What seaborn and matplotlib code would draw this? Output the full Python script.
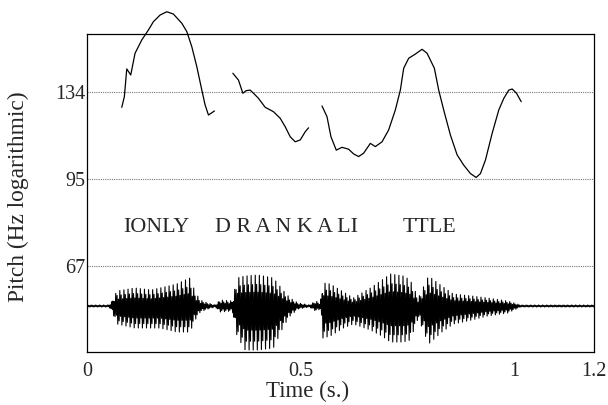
import numpy as np
import pandas as pd
import matplotlib
matplotlib.use("Agg")
import matplotlib.pyplot as plt
from matplotlib.ticker import NullLocator, FixedLocator, FixedFormatter
import seaborn as sns

# ---- pitch contours (time s, Hz) ----
seg1_t = [0.0813, 0.0874, 0.0930, 0.1023, 0.1124, 0.1281, 0.1436, 0.1553, 0.1710, 0.1867,
          0.2021, 0.2218, 0.2335, 0.2452, 0.2569, 0.2686, 0.2763, 0.2841, 0.2920, 0.2981]
seg1_hz = [126.2, 131.7, 147.1, 143.6, 156.6, 165.1, 171.8, 177.6, 182.4, 184.8,
           183.1, 176.5, 170.7, 160.7, 148.4, 135.2, 127.4, 122.4, 123.5, 124.4]

seg2_t = [0.3412, 0.3543, 0.3646, 0.3724, 0.3817, 0.3895, 0.4012, 0.4169, 0.4286, 0.4363,
          0.4520, 0.4637, 0.4754, 0.4871, 0.4988, 0.5105, 0.5183]
seg2_hz = [144.6, 140.7, 133.5, 134.9, 135.2, 133.5, 130.8, 126.2, 124.9, 124.0,
           120.8, 116.8, 112.2, 110.0, 110.8, 114.5, 116.3]

seg3_t = [0.5497, 0.5614, 0.5707, 0.5831, 0.5965, 0.6119, 0.6237, 0.6354, 0.6471, 0.6628,
          0.6745, 0.6902, 0.7056, 0.7213, 0.7330, 0.7408, 0.7525, 0.7681, 0.7838, 0.7955,
          0.8126, 0.8227, 0.8344, 0.8501, 0.8658, 0.8813, 0.8970, 0.9103, 0.9204, 0.9321,
          0.9478, 0.9633, 0.9750, 0.9867, 0.9947, 1.0047, 1.0157]
seg3_hz = [126.9, 121.6, 112.2, 106.4, 107.6, 106.8, 104.8, 103.7, 105.1, 109.3,
           107.9, 110.0, 115.3, 124.9, 135.2, 147.5, 153.5, 156.1, 159.1, 156.6,
           147.5, 135.2, 124.9, 113.0, 104.4, 100.2, 96.9, 95.4, 96.9, 102.3,
           113.8, 124.9, 130.8, 135.2, 135.8, 133.5, 129.1]

# ---- waveform envelope (time s, upper / lower amplitude, arbitrary units) ----
env_t = [0.000, 0.050, 0.056, 0.070, 0.112, 0.150, 0.171, 0.210, 0.230, 0.241,
         0.253, 0.265, 0.283, 0.300, 0.311, 0.340, 0.351, 0.370, 0.400, 0.436,
         0.460, 0.475, 0.494, 0.520, 0.535, 0.546, 0.552, 0.569, 0.600, 0.623,
         0.663, 0.690, 0.710, 0.740, 0.756, 0.775, 0.799, 0.830, 0.857, 0.900,
         0.937, 0.984, 1.014, 1.186]
env_up = [1, 1, 3, 15, 18, 16, 18, 22, 26, 28,
          14, 6, 3, 1, 6, 5, 28, 30, 31, 28,
          15, 8, 3, 1, 5, 3, 23, 22, 14, 8,
          18, 26, 32, 30, 26, 8, 30, 20, 12, 10,
          8, 5, 1, 1]
env_dn = [1, 1, 3, 18, 22, 22, 22, 26, 26, 26,
          14, 6, 3, 1, 6, 5, 30, 44, 44, 42,
          20, 10, 3, 1, 5, 3, 32, 30, 22, 18,
          24, 30, 36, 36, 34, 12, 38, 26, 18, 14,
          10, 7, 1, 1]

# ---- ticks and annotations ----
y_ticks = [67, 95, 134]
x_ticks = [0, 0.5, 1, 1.186]
x_tick_labels = ["0", "0.5", "1", "1.2"]
words = ["IONLY", "D R A N K A LI", "TTLE"]
word_t = [0.084, 0.300, 0.739]
word_hz = [78, 78, 78]

sns.set_style("white")
plt.rcParams["font.family"] = ["Liberation Serif", "DejaVu Serif"]

W, H = 608, 405
fig = plt.figure(figsize=(W / 100, H / 100), dpi=100)
L, R, T, B = 87, 594, 34, 352
ax = fig.add_axes([L / W, 1 - B / H, (R - L) / W, (B - T) / H])
ax.set_yscale("log")
ax.set_ylim(47.55, 169.1)
ax.set_xlim(0, 1.186)

for st, sh in [(seg1_t, seg1_hz), (seg2_t, seg2_hz), (seg3_t, seg3_hz)]:
    df = pd.DataFrame({"t": st, "hz": sh})
    sns.lineplot(data=df, x="t", y="hz", ax=ax, color="black", linewidth=0.9,
                 sort=False, estimator=None)
for ln in ax.lines:
    ln.set_clip_on(False)

ax.yaxis.set_major_locator(FixedLocator(y_ticks))
ax.yaxis.set_major_formatter(FixedFormatter([str(v) for v in y_ticks]))
ax.yaxis.set_minor_locator(NullLocator())
ax.grid(False)
for v in y_ticks:
    ax.axhline(v, color="#777777", linewidth=0.8, linestyle=(0, (1, 1)), zorder=0)

ax.set_xticks(x_ticks)
ax.set_xticklabels(x_tick_labels)
ax.tick_params(axis="x", direction="out", length=4, width=0.8, labelsize=14.5, pad=3)
ax.tick_params(axis="y", length=0, labelsize=14.5, pad=1)
for s in ax.spines.values():
    s.set_linewidth(0.9)
    s.set_color("black")

for w, t, h in zip(words, word_t, word_hz):
    ax.text(t, h, w, fontsize=15.8, ha="left", va="center")

ax.set_xlabel("Time (s.)", fontsize=16.5)
ax.xaxis.set_label_coords((308 - L) / (R - L), (B - 381) / (B - T))
ax.xaxis.label.set_va("top")
ax.set_ylabel("Pitch (Hz logarithmic)", fontsize=16.8)
ax.yaxis.set_label_coords((18 - L) / (R - L), (B - 197) / (B - T))
ax.yaxis.label.set_va("center")

# ---- waveform on an overlay axis ----
ax2 = ax.twinx()
ax2.set_ylim(-(B - 306), 306 - T)
ax2.axis("off")
t_s = np.arange(0, 1.186, 0.0016)
mult = np.resize([1.0, -0.55, 0.7, -1.0, 0.45, -0.8], len(t_s))
up = np.interp(t_s, env_t, env_up)
dn = np.interp(t_s, env_t, env_dn)
wave = np.where(mult > 0, mult * up, mult * dn)
wdf = pd.DataFrame({"t": t_s, "a": wave})
sns.lineplot(data=wdf, x="t", y="a", ax=ax2, color="black", linewidth=0.8,
             sort=False, estimator=None)

fig.savefig("out.png", dpi=100)
